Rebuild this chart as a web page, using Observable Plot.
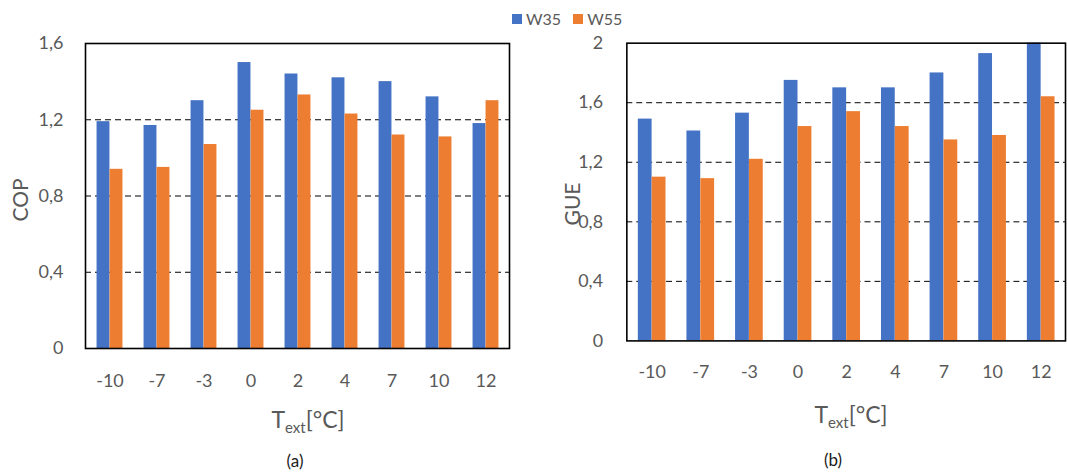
<!DOCTYPE html>
<html>
<head>
<meta charset="utf-8">
<script src="https://cdn.jsdelivr.net/npm/d3@7"></script>
<script src="https://cdn.jsdelivr.net/npm/@observablehq/plot@0.6"></script>
<style>
  html, body { margin: 0; padding: 0; background: #fff; }
  #wrap { position: relative; width: 1067px; height: 474px; overflow: hidden; background: #fff;
          font-family: Lato, "Open Sans", sans-serif; color: #595959; }
  .abs { position: absolute; }
  .ttl { position: absolute; font-size: 23px; white-space: nowrap; transform: translate(-50%, -50%); line-height: 1; }
  .ttl sub { font-size: 15px; vertical-align: -5px; }
  .cap { position: absolute; font-size: 17px; transform: translate(-50%, -50%); color: #1a1a1a; line-height: 1.1; }
  .ylab { position: absolute; font-size: 21px; transform: translate(-50%, -50%) rotate(-90deg); white-space: nowrap; line-height: 1; }
  #legend { position: absolute; left: 512px; top: 9px; display: flex; align-items: center; font-size: 16px; gap: 4px; }
  #legend .sw { width: 10px; height: 10px; display: inline-block; }
</style>
</head>
<body>
<div id="wrap">
  <div id="left" class="abs" style="left:0;top:0"></div>
  <div id="right" class="abs" style="left:540px;top:0"></div>
  <div id="legend"></div>
  <div class="ylab" style="left:19px;top:200px">COP</div>
  <div class="ylab" style="left:571px;top:204px">GUE</div>
  <div class="ttl" style="left:308px;top:421px">T<sub>ext</sub>[°C]</div>
  <div class="ttl" style="left:851px;top:416px">T<sub>ext</sub>[°C]</div>
  <div class="cap" style="left:295px;top:461px">(a)</div>
  <div class="cap" style="left:833px;top:460px">(b)</div>
</div>
<script>
const temps = ["-10", "-7", "-3", "0", "2", "4", "7", "10", "12"];
const series = ["W35", "W55"];
const colors = ["#4472C4", "#ED7D31"];
const copW35 = [1.19, 1.17, 1.30, 1.50, 1.44, 1.42, 1.40, 1.32, 1.18];
const copW55 = [0.94, 0.95, 1.07, 1.25, 1.33, 1.23, 1.12, 1.11, 1.30];
const gueW35 = [1.49, 1.41, 1.53, 1.75, 1.70, 1.70, 1.80, 1.93, 2.00];
const gueW55 = [1.10, 1.09, 1.22, 1.44, 1.54, 1.44, 1.35, 1.38, 1.64];
const copTicks = [0, 0.4, 0.8, 1.2, 1.6];
const gueTicks = [0, 0.4, 0.8, 1.2, 1.6, 2];
const copGrid = [0.4, 0.8, 1.2];
const gueGrid = [0.4, 0.8, 1.2, 1.6];

const fmt = d => Number.isInteger(d) ? String(d) : d.toFixed(1).replace(".", ",");

function chart({w35, w55, yMax, yTicks, grid, width, height, mL, mR, mT, mB, group, xPad, yPad}) {
  const rows = temps.map((t, i) => ({t, w35: w35[i], w55: w55[i]}));
  const step = (width - mL - mR) / temps.length;
  const gap = (step - group) / 2;
  return Plot.plot({
    width, height,
    marginLeft: mL, marginRight: mR, marginTop: mT, marginBottom: mB,
    style: {fontFamily: "Lato, 'Open Sans', sans-serif", fontSize: "18px", color: "#595959", background: "transparent", overflow: "visible"},
    x: {domain: temps, padding: 0, label: null, tickSize: 0, tickPadding: xPad},
    y: {domain: [0, yMax], ticks: yTicks, tickFormat: fmt, label: null, tickSize: 0, tickPadding: yPad},
    marks: [
      Plot.ruleY(grid, {stroke: "#000", strokeWidth: 1, strokeDasharray: "6,4"}),
      Plot.barY(rows, {x: "t", y: "w35", fill: colors[0], insetLeft: gap, insetRight: step / 2}),
      Plot.barY(rows, {x: "t", y: "w55", fill: colors[1], insetLeft: step / 2, insetRight: gap}),
      Plot.frame({stroke: "#000", strokeWidth: 1.6})
    ]
  });
}

document.getElementById("left").append(chart({
  w35: copW35, w55: copW55, yMax: 1.6, yTicks: copTicks, grid: copGrid,
  width: 540, height: 474, mL: 85, mR: 31, mT: 43, mB: 126, group: 26, xPad: 26, yPad: 22
}));
document.getElementById("right").append(chart({
  w35: gueW35, w55: gueW55, yMax: 2, yTicks: gueTicks, grid: gueGrid,
  width: 531, height: 474, mL: 87, mR: 2, mT: 43, mB: 131, group: 28, xPad: 25, yPad: 24
}));

const leg = document.getElementById("legend");
series.forEach((s, i) => {
  const sw = document.createElement("span");
  sw.className = "sw";
  sw.style.background = colors[i];
  const tx = document.createElement("span");
  tx.textContent = s;
  tx.style.marginRight = i === 0 ? "8px" : "0";
  leg.append(sw, tx);
});
</script>
</body>
</html>
